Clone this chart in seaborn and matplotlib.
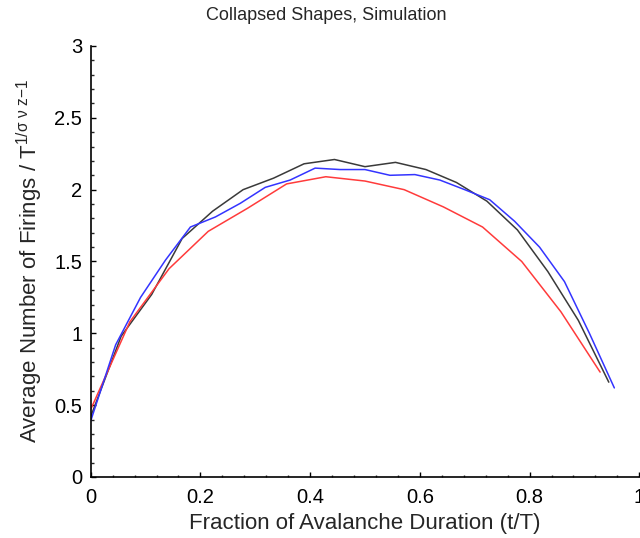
import matplotlib
matplotlib.use("Agg")
import matplotlib.pyplot as plt
import seaborn as sns
import pandas as pd
from matplotlib.ticker import MultipleLocator, FuncFormatter

# ---- data ----
x_black = [0.0, 0.0556, 0.1111, 0.1667, 0.2222, 0.2778, 0.3333, 0.3889, 0.4444,
           0.5, 0.5556, 0.6111, 0.6667, 0.7222, 0.7778, 0.8333, 0.8889, 0.9444]
y_black = [0.42, 0.98, 1.27, 1.66, 1.85, 2.00, 2.08, 2.18, 2.21,
           2.16, 2.19, 2.14, 2.05, 1.92, 1.72, 1.43, 1.09, 0.66]

x_red = [0.0, 0.0714, 0.1429, 0.2143, 0.2857, 0.3571, 0.4286, 0.5, 0.5714,
         0.6429, 0.7143, 0.7857, 0.8571, 0.9286]
y_red = [0.47, 1.08, 1.45, 1.71, 1.87, 2.04, 2.09, 2.06, 2.00,
         1.88, 1.74, 1.50, 1.15, 0.73]

x_blue = [0.0, 0.0455, 0.0909, 0.1364, 0.1818, 0.2273, 0.2727, 0.3182, 0.3636,
          0.4091, 0.4545, 0.5, 0.5455, 0.5909, 0.6364, 0.6818, 0.7273, 0.7727,
          0.8182, 0.8636, 0.9091, 0.9545]
y_blue = [0.39, 0.92, 1.25, 1.51, 1.74, 1.81, 1.905, 2.016, 2.067,
          2.15, 2.14, 2.14, 2.10, 2.105, 2.067, 2.00, 1.93, 1.78,
          1.60, 1.36, 1.00, 0.62]

x_ticks = [0, 0.2, 0.4, 0.6, 0.8, 1]
y_ticks = [0, 0.5, 1, 1.5, 2, 2.5, 3]

title = "Collapsed Shapes, Simulation"
xlabel = "Fraction of Avalanche Duration (t/T)"
ylabel = r"Average Number of Firings / T$^{\mathrm{1/}\sigma\ \nu\ \mathrm{z{-}1}}$"

# ---- style ----
sns.set_style("ticks")
plt.rcParams["font.family"] = ["Liberation Sans", "DejaVu Sans"]
plt.rcParams["mathtext.fontset"] = "custom"
plt.rcParams["mathtext.rm"] = "Liberation Sans"
plt.rcParams["mathtext.it"] = "Liberation Sans"
plt.rcParams["mathtext.sf"] = "Liberation Sans"

fig = plt.figure(figsize=(6.4, 5.38), dpi=100)
ax = fig.add_axes([0.1417, 0.1134, 0.8572, 0.8011])

lw = 1.1
sns.lineplot(x=x_black, y=y_black, ax=ax, color="#3a3a3a", lw=lw, sort=False)
sns.lineplot(x=x_red, y=y_red, ax=ax, color="#ff3b3b", lw=lw, sort=False)
sns.lineplot(x=x_blue, y=y_blue, ax=ax, color="#3434ff", lw=lw, sort=False)

ax.set_xlim(0, 1)
ax.set_ylim(0, 3)
ax.set_xticks(x_ticks)
ax.set_yticks(y_ticks)
fmt = FuncFormatter(lambda v, p: ("%g" % v))
ax.xaxis.set_major_formatter(fmt)
ax.yaxis.set_major_formatter(fmt)
ax.xaxis.set_minor_locator(MultipleLocator(0.04))
ax.yaxis.set_minor_locator(MultipleLocator(0.1))

for s in ["top", "right"]:
    ax.spines[s].set_visible(False)
for s in ["left", "bottom"]:
    ax.spines[s].set_linewidth(1.2)
    ax.spines[s].set_color("black")

ax.tick_params(which="major", direction="in", length=3.5, width=1.0,
               labelsize=14.5, colors="black")
ax.tick_params(axis="x", which="major", pad=8)
ax.tick_params(axis="y", which="major", pad=6)
ax.tick_params(axis="x", which="minor", direction="in", length=1.5, width=1.0)
ax.tick_params(axis="y", which="minor", direction="in", length=2.5, width=1.0)

ax.set_xlabel(xlabel, fontsize=16, labelpad=4)
ax.set_ylabel(ylabel, fontsize=16, labelpad=7)
fig.text(326 / 640, 1 - 16 / 538, title, fontsize=13, ha="center", va="center")

fig.savefig("out.png", dpi=100)
